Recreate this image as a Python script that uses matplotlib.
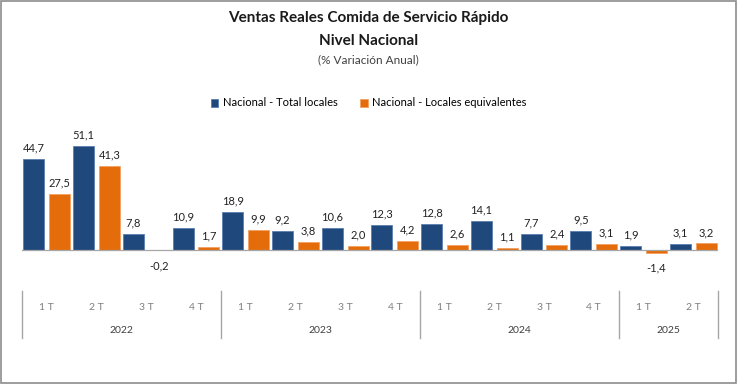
import matplotlib
matplotlib.use('Agg')
import matplotlib.pyplot as plt
import numpy as np
from matplotlib.lines import Line2D
from matplotlib.patches import Rectangle
from matplotlib.transforms import blended_transform_factory

plt.rcParams['font.family'] = ['Lato', 'DejaVu Sans']

# Data
quarters = ['1 T', '2 T', '3 T', '4 T',
            '1 T', '2 T', '3 T', '4 T',
            '1 T', '2 T', '3 T', '4 T',
            '1 T', '2 T']
years = ['2022', '2023', '2024', '2025']
year_sizes = [4, 4, 4, 2]
total_locales = [44.7, 51.1, 7.8, 10.9, 18.9, 9.2, 10.6, 12.3,
                 12.8, 14.1, 7.7, 9.5, 1.9, 3.1]
locales_equiv = [27.5, 41.3, -0.2, 1.7, 9.9, 3.8, 2.0, 4.2,
                 2.6, 1.1, 2.4, 3.1, -1.4, 3.2]

blue = '#1f497d'
orange = '#e46c0a'

fig = plt.figure(figsize=(7.37, 3.84), dpi=100)
ax = fig.add_axes([22 / 737, 0.3224, 696 / 737, 0.3182])

x = np.arange(len(quarters))
w = 0.42
b1 = ax.bar(x - 0.26, total_locales, w, color=blue, edgecolor='#5b7fae', linewidth=0.6,
            label='Nacional - Total locales')
b2 = ax.bar(x + 0.26, locales_equiv, w, color=orange, edgecolor='#f3a060', linewidth=0.6,
            label='Nacional - Locales equivalentes')

# Data labels
for bars, vals in [(b1, total_locales), (b2, locales_equiv)]:
    for rect, v in zip(bars, vals):
        cx = rect.get_x() + rect.get_width() / 2
        txt = f'{v:.1f}'.replace('.', ',')
        if v >= 0:
            ax.annotate(txt, (cx, v), xytext=(0, 4), textcoords='offset points',
                        ha='center', va='bottom', fontsize=8, color='#222222')
        else:
            ax.annotate(txt, (cx, v), xytext=(0, -7), textcoords='offset points',
                        ha='center', va='top', fontsize=8, color='#222222')

ax.set_xlim(-0.5, 13.5)
ax.set_ylim(-5, 55)
ax.axhline(0, color='#a6a6a6', linewidth=0.9)
ax.axis('off')

# Two-level category axis
trans = blended_transform_factory(ax.transData, fig.transFigure)
for i, q in enumerate(quarters):
    ax.text(i, 0.2005, q, transform=trans, ha='center', va='center',
            fontsize=7.5, color='#7f7f7f')
start = -0.5
bounds = [start]
for yr, n in zip(years, year_sizes):
    ax.text(start + n / 2, 0.1406, yr, transform=trans, ha='center', va='center',
            fontsize=7.5, color='#404040')
    start += n
    bounds.append(start)
for b in bounds:
    fig.add_artist(Line2D([b, b], [(384 - 291) / 384, (384 - 338) / 384],
                          transform=trans, color='#a6a6a6', linewidth=1))

# Titles
fig.text(0.5, (384 - 18) / 384, 'Ventas Reales Comida de Servicio Rápido',
         ha='center', va='center', fontsize=11, fontweight='bold', color='#1a1a1a')
fig.text(0.5, (384 - 41) / 384, 'Nivel Nacional',
         ha='center', va='center', fontsize=11, fontweight='bold', color='#1a1a1a')
fig.text(0.5, (384 - 60) / 384, '(% Variación Anual)',
         ha='center', va='center', fontsize=8.5, color='#404040')

fig.legend(handles=[b1, b2], loc='center', bbox_to_anchor=(0.5, (384 - 103) / 384),
           ncol=2, frameon=False, fontsize=8, handlelength=0.7, handleheight=0.7,
           handletextpad=0.4, columnspacing=2.0)

# Outer border
fig.add_artist(Rectangle((0.001, 0.002), 0.997, 0.996, transform=fig.transFigure,
                         fill=False, edgecolor='#8c8c8c', linewidth=1.2))

fig.savefig('out.png', dpi=100)
